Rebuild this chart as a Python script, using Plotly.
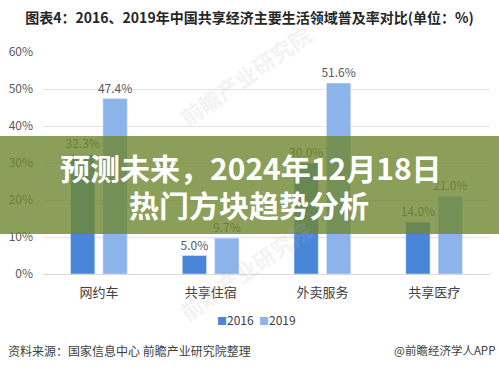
import plotly.graph_objects as go

categories = ["网约车", "共享住宿", "外卖服务", "共享医疗"]
values_2016 = [32.3, 5.0, 30.0, 14.0]
values_2019 = [47.4, 9.7, 51.6, 21.0]
series_names = ["2016", "2019"]
series_colors = ["#4a86d8", "#8db4ea"]
y_ticks = [0, 10, 20, 30, 40, 50, 60]

W, H = 499, 369
L, R, T, B = 43, 9, 52, 95
PW = W - L - R
PH = H - T - B

def px(x):
    return (x - L) / PW

def py(y):
    return (H - B - y) / PH

FONT = "Noto Sans CJK SC, Microsoft YaHei, sans-serif"

fig = go.Figure()
for name, vals, col in zip(series_names, [values_2016, values_2019], series_colors):
    fig.add_trace(go.Bar(
        x=categories, y=vals, name=name,
        marker_color=col,
        text=[f"{v:.1f}%" for v in vals], textposition="outside",
        constraintext="none",
        textfont=dict(size=12, color="#595959", family=FONT),
        cliponaxis=False,
    ))

fig.update_layout(
    width=W, height=H,
    margin=dict(l=L, r=R, t=T, b=B, autoexpand=False),
    paper_bgcolor="white", plot_bgcolor="white",
    barmode="group", bargap=0.42, bargroupgap=0.25,
    font=dict(family=FONT, color="#595959"),
    title=dict(
        text="<b>图表4：2016、2019年中国共享经济主要生活领域普及率对比(单位：%)</b>",
        x=0.5, xref="container", xanchor="center",
        y=1 - 18 / H, yref="container", yanchor="middle",
        font=dict(size=14, color="#262626", family=FONT),
        automargin=False,
    ),
    showlegend=False,
    xaxis=dict(
        automargin=False,
        showgrid=False, showline=True, linecolor="#d9d9d9", linewidth=1,
        ticks="", tickfont=dict(size=13, color="#404040", family=FONT),
        ticklabelstandoff=6,
    ),
    yaxis=dict(
        automargin=False,
        range=[0, 60], tickvals=y_ticks,
        ticktext=[f"{v}%" for v in y_ticks],
        showgrid=True, gridcolor="#e3e3e3", gridwidth=1,
        zeroline=False, showline=False, ticks="",
        tickfont=dict(size=12, color="#595959", family=FONT),
        ticklabelstandoff=9,
    ),
)

# faint watermarks
for (wx, wy, size) in [(245, 75, 22), (245, 270, 22)]:
    fig.add_annotation(
        xref="paper", yref="paper", x=px(wx), y=py(wy),
        text="<b>前瞻产业研究院</b>", showarrow=False, textangle=-35,
        xanchor="center", yanchor="middle",
        font=dict(size=size, color="rgba(180,180,180,0.18)", family=FONT),
    )

# legend built from series names and colours
legend_text = "  ".join(
    f"<span style='color:{c};font-size:10px'>■</span>{n}" for n, c in zip(series_names, series_colors)
)
fig.add_annotation(
    xref="paper", yref="paper", x=px(256), y=py(319),
    text=legend_text, showarrow=False, xanchor="center", yanchor="middle",
    font=dict(size=12, color="#404040", family=FONT),
)

# banner overlay
fig.add_shape(
    type="rect", xref="paper", yref="paper",
    x0=px(0), x1=px(W), y0=py(234), y1=py(136),
    fillcolor="rgba(110,135,50,0.8)", line=dict(width=0), layer="above",
)

fig.add_annotation(
    xref="paper", yref="paper", x=px(251), y=py(167),
    text="<b>预测未来，2024年12月18日</b>", showarrow=False,
    xanchor="center", yanchor="middle",
    font=dict(size=30, color="white", family=FONT),
)
fig.add_annotation(
    xref="paper", yref="paper", x=px(249), y=py(204),
    text="<b>热门方块趋势分析</b>", showarrow=False,
    xanchor="center", yanchor="middle",
    font=dict(size=30, color="white", family=FONT),
)

fig.add_annotation(
    xref="paper", yref="paper", x=px(6), y=py(350),
    text="资料来源：国家信息中心 前瞻产业研究院整理", showarrow=False,
    xanchor="left", yanchor="middle",
    font=dict(size=12, color="#404040", family=FONT),
)
fig.add_annotation(
    xref="paper", yref="paper", x=px(497), y=py(350),
    text="@前瞻经济学人APP", showarrow=False,
    xanchor="right", yanchor="middle",
    font=dict(size=11.5, color="#404040", family=FONT),
)

fig.write_html(
    "out.html",
    config={"displayModeBar": False},
    post_script=["document.body.style.margin='0';document.body.style.overflow='hidden';"],
)
